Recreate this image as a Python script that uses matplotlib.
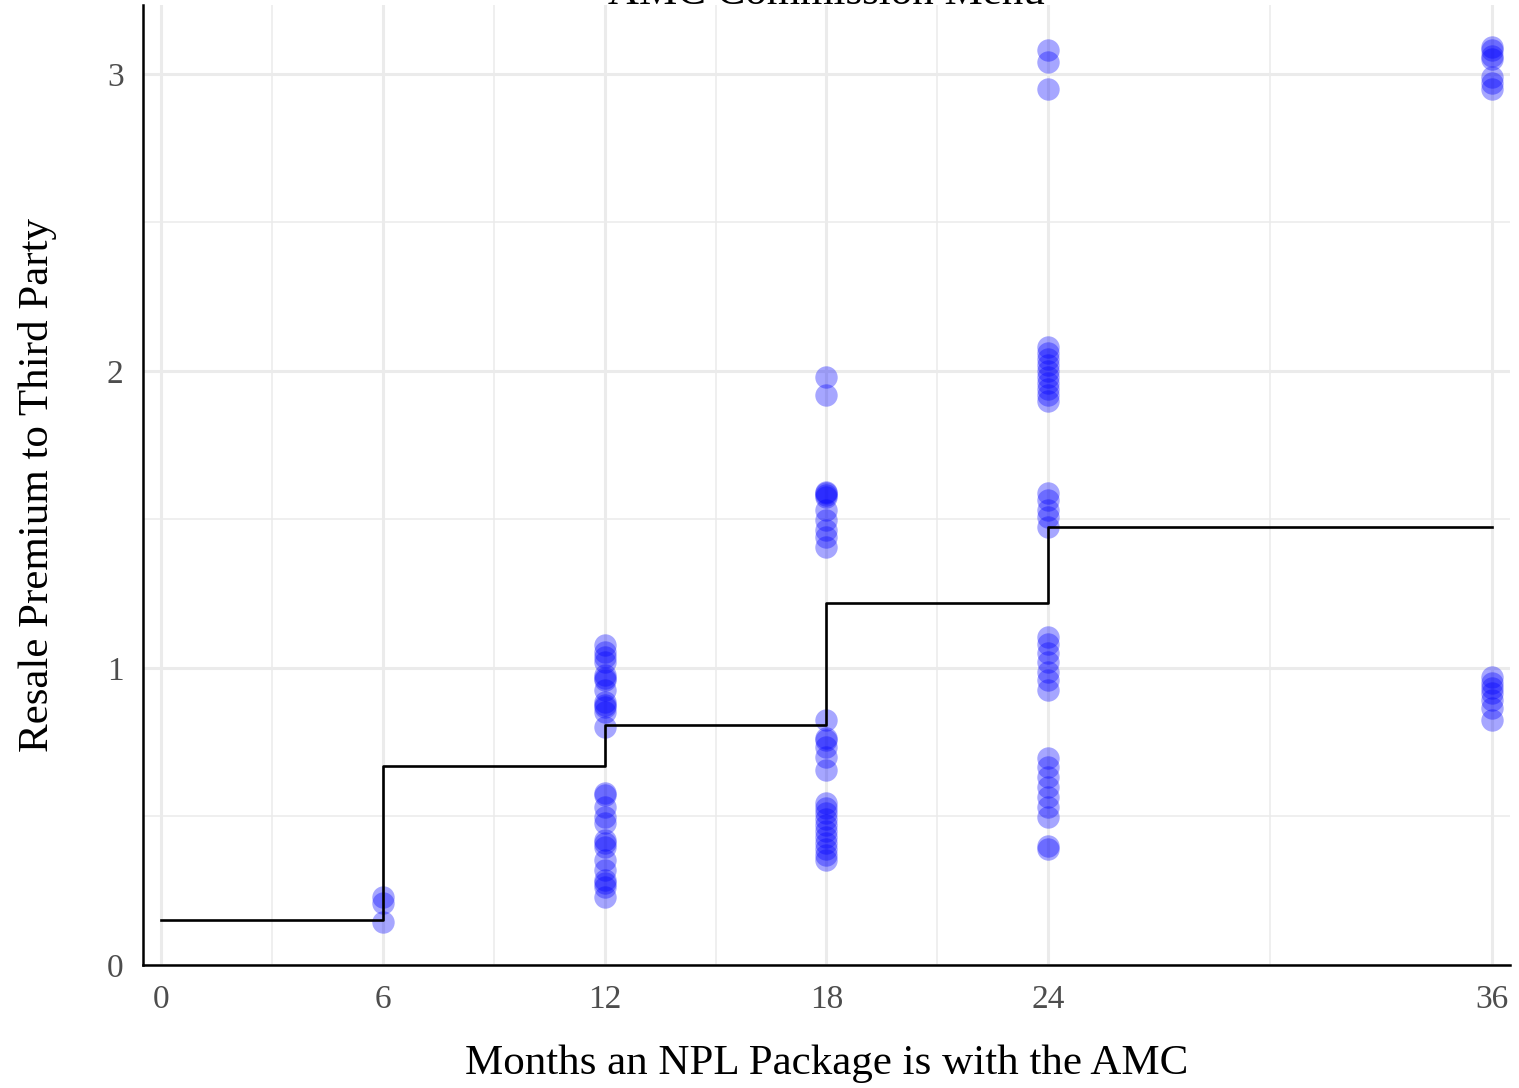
import numpy as np
import matplotlib.pyplot as plt

plt.rcParams['font.family'] = ['Liberation Serif', 'DejaVu Serif']

# menu: premium paid per holding period (step function)
menu_months = [0, 6, 12, 18, 24, 36]
menu_premium = [0.152, 0.67, 0.808, 1.219, 1.475, 1.475]

# observed resale premiums by holding period
pts_6 = [0.23, 0.21, 0.145]
pts_12 = [1.077, 1.054, 1.037, 1.020, 0.976, 0.966, 0.96, 0.926, 0.886, 0.875,
          0.869, 0.852, 0.801,
          0.579, 0.572, 0.532, 0.498, 0.478, 0.421, 0.410, 0.397, 0.354, 0.320,
          0.286, 0.275, 0.263, 0.229]
pts_18 = [1.98, 1.92,
          1.592, 1.589, 1.582, 1.575, 1.532, 1.498, 1.465, 1.441, 1.407,
          0.825, 0.764, 0.758, 0.734, 0.700, 0.657,
          0.545, 0.53, 0.51, 0.49, 0.47, 0.45, 0.43, 0.41, 0.39, 0.37, 0.355]
pts_24 = [3.08, 3.04, 2.95,
          2.08, 2.06, 2.04, 2.02, 2.00, 1.98, 1.96, 1.94, 1.92, 1.90,
          1.589, 1.566, 1.532, 1.508, 1.475,
          1.104, 1.08, 1.05, 1.02, 0.987, 0.96, 0.926,
          0.697, 0.667, 0.633, 0.60, 0.566, 0.532, 0.498,
          0.40, 0.39]
pts_36 = [3.09, 3.08, 3.06, 3.05, 2.99, 2.97, 2.95,
          0.97, 0.95, 0.933, 0.916, 0.892, 0.865, 0.825]

groups = {6: pts_6, 12: pts_12, 18: pts_18, 24: pts_24, 36: pts_36}

fig = plt.figure(figsize=(15.19, 10.88), dpi=100)
ax = fig.add_axes([0.0941, 0.1131, 0.9, 1 - 5/1088 - 0.1131])

for m, vals in groups.items():
    ax.scatter(np.full(len(vals), m), vals, s=260, color='blue', alpha=0.35,
               linewidths=0, zorder=3)

ax.step(menu_months, menu_premium, where='post', color='black', lw=1.9, zorder=4)

ax.set_xlim(-0.49, 36.49)
ax.set_ylim(0, 3.232)
ax.set_xticks([0, 6, 12, 18, 24, 36])
ax.set_xticks([3, 9, 15, 21, 30], minor=True)
ax.set_yticks([0, 1, 2, 3])
ax.set_yticks([0.5, 1.5, 2.5], minor=True)
ax.grid(which='major', color='#EBEBEB', lw=2.2)
ax.grid(which='minor', color='#EBEBEB', lw=1.1)
ax.set_axisbelow(True)
ax.tick_params(which='both', length=0, labelsize=24, labelcolor='#4D4D4D')
ax.tick_params(axis='x', pad=14)
ax.tick_params(axis='y', pad=14)
for s in ['top', 'right']:
    ax.spines[s].set_visible(False)
for s in ['left', 'bottom']:
    ax.spines[s].set_linewidth(1.8)

ax.set_xlabel('Months an NPL Package is with the AMC', fontsize=31, labelpad=21)
ax.set_ylabel('Resale Premium to Third Party', fontsize=31, labelpad=36)

fig.text(0.544, 1 - 4/1088, 'AMC Commission Menu', fontsize=31,
         ha='center', va='baseline')

fig.savefig('out.png', dpi=100)
